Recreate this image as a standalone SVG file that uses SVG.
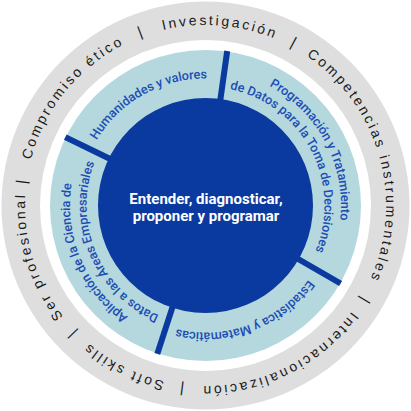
<svg xmlns="http://www.w3.org/2000/svg" xmlns:xlink="http://www.w3.org/1999/xlink" width="411" height="411" viewBox="0 0 411 411">
<style>
.outer{font-family:"Liberation Sans",Arial,sans-serif;font-size:14px;letter-spacing:2.55px;fill:#1a1a1a;}
.sep{font-family:"Liberation Sans",Arial,sans-serif;font-size:15px;fill:#1a1a1a;}
.seg{font-family:Roboto,"Liberation Sans",sans-serif;font-size:12.7px;font-weight:500;fill:#1c4db3;}
.center{font-family:Roboto,"Liberation Sans",sans-serif;font-size:15px;font-weight:700;fill:#ffffff;}
.bar{stroke:#0a3a9f;stroke-width:6;}
</style>
<defs>
<path id="p180" d="M386,205.5 A180.5,180.5 0 1 1 25,205.5 A180.5,180.5 0 1 1 386,205.5 A180.5,180.5 0 1 1 25,205.5 A180.5,180.5 0 1 1 386,205.5"/>
<path id="p127" d="M332.5,205.5 A127,127 0 1 1 78.5,205.5 A127,127 0 1 1 332.5,205.5 A127,127 0 1 1 78.5,205.5 A127,127 0 1 1 332.5,205.5"/>
<path id="p135" d="M341,205.5 A135.5,135.5 0 1 1 70,205.5 A135.5,135.5 0 1 1 341,205.5 A135.5,135.5 0 1 1 70,205.5 A135.5,135.5 0 1 1 341,205.5"/>
<path id="p119" d="M324.5,205.5 A119,119 0 1 1 86.5,205.5 A119,119 0 1 1 324.5,205.5 A119,119 0 1 1 86.5,205.5 A119,119 0 1 1 324.5,205.5"/>
</defs>
<g id="outer-ring">
<circle cx="205.5" cy="205.5" r="204" fill="#dedede"/>
<circle cx="205.5" cy="205.5" r="165.5" fill="#ffffff"/>
<text class="outer" text-anchor="middle"><textPath xlink:href="#p180" startOffset="865.1">Investigación</textPath></text>
<text class="outer" text-anchor="middle"><textPath xlink:href="#p180" startOffset="1084.4">Competencias instrumentales</textPath></text>
<text class="outer" text-anchor="middle"><textPath xlink:href="#p180" startOffset="200.7">Internacionalización</textPath></text>
<text class="outer" text-anchor="middle"><textPath xlink:href="#p180" startOffset="368.6">Soft skills</textPath></text>
<text class="outer" text-anchor="middle"><textPath xlink:href="#p180" startOffset="513.5">Ser profesional</textPath></text>
<text class="outer" text-anchor="middle"><textPath xlink:href="#p180" startOffset="689.9">Compromiso ético</textPath></text>
<text class="sep" text-anchor="middle"><textPath xlink:href="#p180" startOffset="785.1">|</textPath></text>
<text class="sep" text-anchor="middle"><textPath xlink:href="#p180" startOffset="939.7">|</textPath></text>
<text class="sep" text-anchor="middle"><textPath xlink:href="#p180" startOffset="96.7">|</textPath></text>
<text class="sep" text-anchor="middle"><textPath xlink:href="#p180" startOffset="306.5">|</textPath></text>
<text class="sep" text-anchor="middle"><textPath xlink:href="#p180" startOffset="428.4">|</textPath></text>
<text class="sep" text-anchor="middle"><textPath xlink:href="#p180" startOffset="590.0">|</textPath></text>
</g>
<g id="segment-ring">
<circle cx="205.5" cy="205.5" r="155.5" fill="#b4d8de"/>
</g>
<g id="connectors">
<line class="bar" x1="220.25" y1="100.53" x2="227.21" y2="51.02"/>
<line class="bar" x1="297.30" y1="258.5" x2="340.60" y2="283.5"/>
<line class="bar" x1="172.74" y1="306.31" x2="157.29" y2="353.87"/>
<line class="bar" x1="110.23" y1="159.03" x2="65.29" y2="137.11"/>
</g>
<g id="humanidades">
<text class="seg" text-anchor="middle"><textPath xlink:href="#p127" startOffset="533.6">Humanidades y valores</textPath></text>
</g>
<g id="programacion">
<text class="seg" text-anchor="middle"><textPath xlink:href="#p135" startOffset="785.1">Programación y Tratamiento</textPath></text>
<text class="seg" text-anchor="middle"><textPath xlink:href="#p119" startOffset="689.6">de Datos para la Toma de Decisiones</textPath></text>
</g>
<g id="estadistica">
<text class="seg" text-anchor="middle"><textPath xlink:href="#p127" startOffset="154.05">Estadística y Matemáticas</textPath></text>
</g>
<g id="aplicacion">
<text class="seg" text-anchor="middle"><textPath xlink:href="#p135" startOffset="371.3">Aplicación de la Ciencia de</textPath></text>
<text class="seg" text-anchor="middle"><textPath xlink:href="#p119" startOffset="326.1">Datos a las Áreas Empresariales</textPath></text>
</g>
<g id="center">
<circle cx="205.5" cy="205.5" r="107.5" fill="#0a3a9f"/>
<text class="center" x="206" y="204" text-anchor="middle">Entender, diagnosticar,</text>
<text class="center" x="206" y="221" text-anchor="middle">proponer y programar</text>
</g>
</svg>
